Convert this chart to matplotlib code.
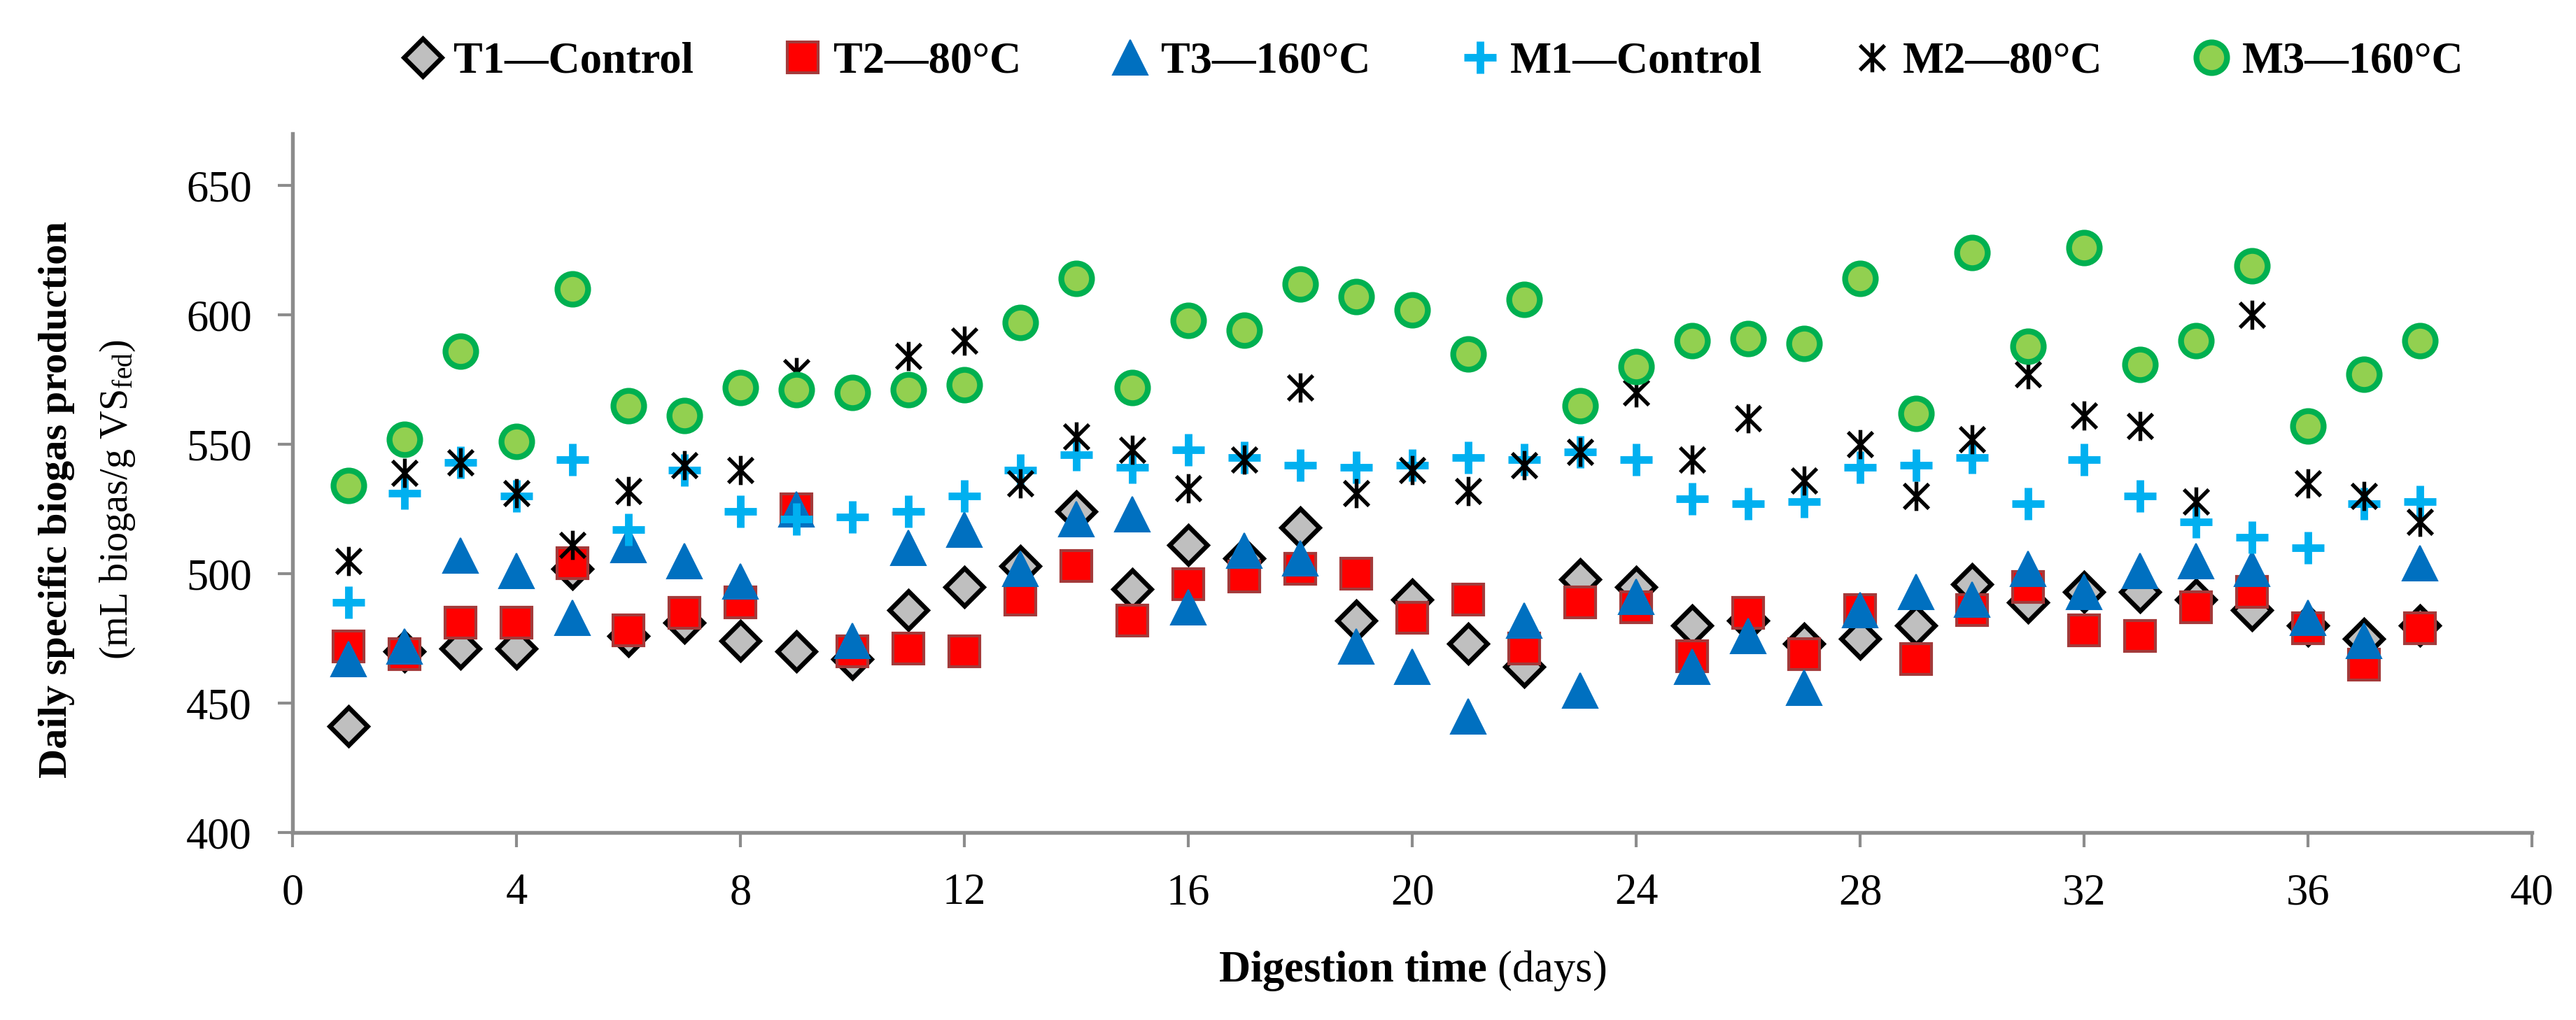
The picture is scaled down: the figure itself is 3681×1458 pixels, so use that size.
import numpy as np
import matplotlib
matplotlib.use('Agg')
import matplotlib.pyplot as plt
from matplotlib.path import Path

plt.rcParams['font.family'] = 'Liberation Serif'
plt.rcParams['mathtext.fontset'] = 'custom'
plt.rcParams['mathtext.rm'] = 'Liberation Serif'
plt.rcParams['mathtext.it'] = 'Liberation Serif:italic'
plt.rcParams['mathtext.bf'] = 'Liberation Serif:bold'

# digestion days
days = list(range(1, 39))

# daily specific biogas production (mL biogas/g VS fed)
t1_control = [441, 470, 471, 471, 502, 476, 481, 474, 470, 467,
              486, 495, 503, 524, 494, 511, 506, 518, 482, 490,
              473, 464, 498, 495, 480, 482, 473, 475, 480, 496,
              489, 493, 493, 490, 486, 480, 475, 480]
t2_80 = [472, 469, 481, 481, 504, 478, 485, 489, 525, 470,
         471, 470, 490, 503, 482, 496, 499, 502, 500, 483,
         490, 471, 489, 487, 468, 485, 469, 486, 467, 486,
         495, 478, 476, 487, 493, 479, 465, 479]
t3_160 = [467, 472, 507, 501, 483, 511, 505, 497, 525, 474,
          510, 517, 502, 521, 523, 487, 509, 506, 472, 464,
          445, 482, 455, 491, 464, 476, 456, 486, 493, 490,
          502, 493, 501, 505, 502, 483, 474, 504]
m1_control = [489, 531, 543, 530, 544, 517, 540, 524, 521, 522,
              524, 530, 540, 546, 541, 548, 545, 542, 541, 542,
              545, 544, 547, 544, 529, 527, 528, 541, 542, 545,
              527, 544, 530, 520, 514, 510, 527, 528]
m2_80 = [505, 539, 543, 531, 511, 532, 542, 540, 578, 570,
         584, 590, 535, 553, 548, 533, 544, 572, 531, 540,
         532, 542, 547, 570, 544, 560, 536, 550, 530, 552,
         577, 561, 557, 528, 600, 535, 530, 520]
m3_160 = [534, 552, 586, 551, 610, 565, 561, 572, 571, 570,
          571, 573, 597, 614, 572, 598, 594, 612, 607, 602,
          585, 606, 565, 580, 590, 591, 589, 614, 562, 624,
          588, 626, 581, 590, 619, 557, 577, 590]

labels = ['T1\u2014Control', 'T2\u201480\u00b0C', 'T3\u2014160\u00b0C',
          'M1\u2014Control', 'M2\u201480\u00b0C', 'M3\u2014160\u00b0C']

# asterisk marker like the Excel one: a vertical bar plus an X
star = Path([(0, -1), (0, 1), (-0.85, -0.85), (0.85, 0.85), (-0.85, 0.85), (0.85, -0.85)],
            [Path.MOVETO, Path.LINETO, Path.MOVETO, Path.LINETO, Path.MOVETO, Path.LINETO])

fig = plt.figure(figsize=(12.27, 4.86), dpi=300)
ax = fig.add_axes([0.1136, 0.1838, 0.8693, 0.685])

ax.plot(days, t1_control, ls='none', marker='D', ms=9.3, mfc='#BFBFBF', mec='black', mew=1.6, label=labels[0])
ax.plot(days, t2_80, ls='none', marker='s', ms=10.5, mfc='#FF0000', mec='#A33A3A', mew=1.0, label=labels[1])
ax.plot(days, t3_160, ls='none', marker='^', ms=12, mfc='#0070C0', mec='#0070C0', mew=0.5, label=labels[2])
ax.plot(days, m1_control, ls='none', marker='+', ms=11, mec='#00B0F0', mew=2.6, label=labels[3])
ax.plot(days, m2_80, ls='none', marker=star, ms=10, mec='black', mfc='none', mew=1.3, label=labels[4])
ax.plot(days, m3_160, ls='none', marker='o', ms=10.5, mfc='#92D050', mec='#00B050', mew=2.0, label=labels[5])

ax.set_xlim(0, 40)
ax.set_ylim(400, 670)
ax.set_xticks(np.arange(0, 41, 4))
ax.set_yticks(np.arange(400, 651, 50))

for side in ['top', 'right']:
    ax.spines[side].set_visible(False)
for side in ['left', 'bottom']:
    ax.spines[side].set_color('#8C8C8C')
    ax.spines[side].set_linewidth(1.3)
ax.tick_params(axis='both', direction='out', length=5, width=1.0, color='#8C8C8C', labelsize=15)
ax.tick_params(axis='x', pad=9)
ax.tick_params(axis='y', pad=9)

ax.set_xlabel(r'$\mathbf{Digestion\ time}$ (days)', fontsize=15, labelpad=12)

# two-line y label, first line bold
fig.text(0.022, 0.51, 'Daily specific biogas production', rotation=90, fontsize=14,
         fontweight='bold', ha='center', va='center')
fig.text(0.0456, 0.51, r'(mL biogas/g VS$_{\mathrm{fed}}$)', rotation=90, fontsize=13.5,
         ha='center', va='center')

fig.legend(loc='center', bbox_to_anchor=(0.556, 0.939), ncol=6, frameon=False,
           prop={'weight': 'bold', 'size': 15}, columnspacing=2.0, handletextpad=0.2,
           handlelength=1.0)

fig.savefig('out.png', dpi=300)
